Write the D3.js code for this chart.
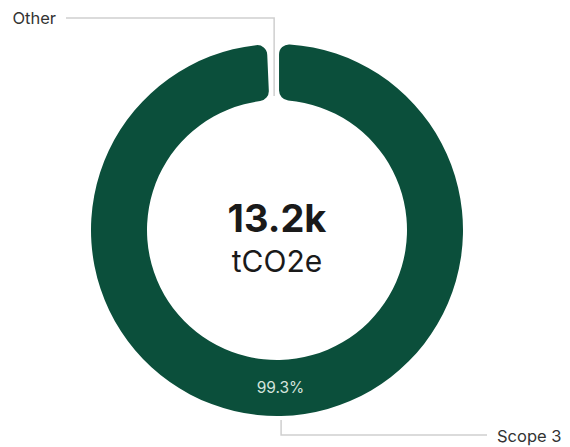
<!DOCTYPE html>
<html>
<head>
<meta charset="utf-8">
<script src="https://cdn.jsdelivr.net/npm/d3@7"></script>
<style>
  html, body { margin: 0; padding: 0; background: #fff; }
  svg { display: block; }
  text { font-family: Inter, "Noto Sans", sans-serif; }
</style>
</head>
<body>
<svg id="chart" width="570" height="447"></svg>
<script>
// Emissions split by category (percent of total)
const categories = ["Scope 3", "Other"];
const shares = [99.3, 0.7];
const totalLabel = "13.2k";
const unitLabel = "tCO2e";

const width = 570, height = 447;
const cx = 277, cy = 230;
const outerR = 186, innerR = 130;

const colors = d3.scaleOrdinal()
  .domain(categories)
  .range(["#0b4f3b", "#ffffff"]);

const svg = d3.select("#chart");
const g = svg.append("g").attr("transform", `translate(${cx},${cy})`);

const pie = d3.pie().sort(null).value(d => d.value);
const arcs = pie(categories.map((c, i) => ({ name: c, value: shares[i] })));

const arc = d3.arc()
  .innerRadius(innerR)
  .outerRadius(outerR)
  .padAngle(0.018)
  .cornerRadius(10);

g.selectAll("path.slice")
  .data(arcs)
  .join("path")
  .attr("class", "slice")
  .attr("d", arc)
  .attr("fill", d => colors(d.data.name));

// Percent label inside the large slice
const big = arcs[0];
const c = arc.centroid(big);
g.append("text")
  .attr("x", c[0])
  .attr("y", c[1])
  .attr("text-anchor", "middle")
  .attr("dominant-baseline", "central")
  .attr("fill", "#d3e3dc")
  .attr("font-size", 15.5)
  .text(d3.format(".1f")(big.data.value) + "%");

// Leader lines and category labels
const mid = d => (d.startAngle + d.endAngle) / 2;
const lineColor = "#cfcfcf";

// Other: runs up through the gap, then left
const other = arcs[1];
const ox = Math.sin(mid(other)) * innerR;
const oy0 = -Math.cos(mid(other)) * (innerR + 4);
g.append("path")
  .attr("d", d3.line()([[ox, oy0], [ox, 18 - cy], [66 - cx, 18 - cy]]))
  .attr("fill", "none")
  .attr("stroke", lineColor)
  .attr("stroke-width", 1.5);
g.append("text")
  .attr("x", 56 - cx)
  .attr("y", 18 - cy)
  .attr("text-anchor", "end")
  .attr("dominant-baseline", "central")
  .attr("fill", "#333")
  .attr("font-size", 16.5)
  .text(other.data.name);

// Scope 3: drops below the ring, then right
const sx = Math.sin(mid(big)) * outerR;
const sy0 = -Math.cos(mid(big)) * (outerR + 4);
g.append("path")
  .attr("d", d3.line()([[sx, sy0], [sx, 435 - cy], [487 - cx, 435 - cy]]))
  .attr("fill", "none")
  .attr("stroke", lineColor)
  .attr("stroke-width", 1.5);
g.append("text")
  .attr("x", 497 - cx)
  .attr("y", 436 - cy)
  .attr("dominant-baseline", "central")
  .attr("fill", "#333")
  .attr("font-size", 16.5)
  .text(big.data.name);

// Centre total
g.append("text")
  .attr("x", 0)
  .attr("y", 232 - cy)
  .attr("text-anchor", "middle")
  .attr("fill", "#1a1a1a")
  .attr("font-size", 38)
  .attr("font-weight", 700)
  .text(totalLabel);
g.append("text")
  .attr("x", 0)
  .attr("y", 272 - cy)
  .attr("text-anchor", "middle")
  .attr("fill", "#1a1a1a")
  .attr("font-size", 30)
  .text(unitLabel);
</script>
</body>
</html>
